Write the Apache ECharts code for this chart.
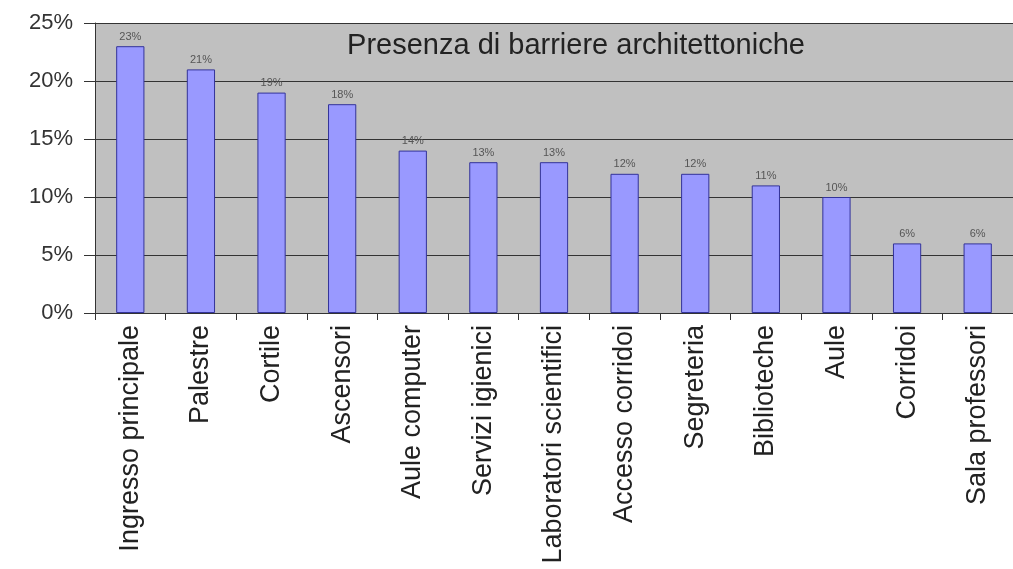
<!DOCTYPE html>
<html><head><meta charset="utf-8">
<script src="https://cdn.jsdelivr.net/npm/echarts@6/dist/echarts.min.js"></script>
<style>html,body{margin:0;padding:0;background:#fff}#c{width:1013px;height:569px}</style>
</head><body><div id="c"></div>
<script>
const categories = ["Ingresso principale","Palestre","Cortile","Ascensori","Aule computer","Servizi igienici","Laboratori scientifici","Accesso corridoi","Segreteria","Biblioteche","Aule","Corridoi","Sala professori"];
const values = [23,21,19,18,14,13,13,12,12,11,10,6,6];
const yTicks = [0,5,10,15,20,25];

const chart = echarts.init(document.getElementById('c'));
chart.setOption({
  animation:false,
  backgroundColor:'#fff',
  title:{text:'Presenza di barriere architettoniche',left:571,top:26,textAlign:'center',
    textStyle:{fontFamily:'Liberation Sans, Arial',fontSize:29,fontWeight:'normal',color:'#222'}},
  grid:{left:95,right:0,top:23,bottom:256,show:true,backgroundColor:'#c0c0c0',borderWidth:0},
  xAxis:{type:'category',data:categories,
    axisLine:{lineStyle:{color:'#333',width:1}},
    axisTick:{show:true,length:7,lineStyle:{color:'#333'}},
    axisLabel:{rotate:90,interval:0,margin:12,fontFamily:'Liberation Sans, Arial',fontSize:27,color:'#222'}},
  yAxis:{type:'value',min:yTicks[0],max:yTicks[yTicks.length-1],interval:5,
    axisLine:{show:true,lineStyle:{color:'#333'}},
    axisTick:{show:true,length:11,lineStyle:{color:'#333'}},
    axisLabel:{formatter:'{value}%',margin:22,fontFamily:'Liberation Sans, Arial',fontSize:22,color:'#333'},
    splitLine:{lineStyle:{color:'#333',width:1}}},
  series:[{type:'bar',data:values,barWidth:'40%',
    itemStyle:{color:'#9999ff',borderColor:'#333399',borderWidth:1},
    label:{show:true,position:'top',formatter:'{c}%',fontFamily:'Liberation Sans, Arial',fontSize:11,color:'#555',distance:4}}]
});
</script></body></html>
